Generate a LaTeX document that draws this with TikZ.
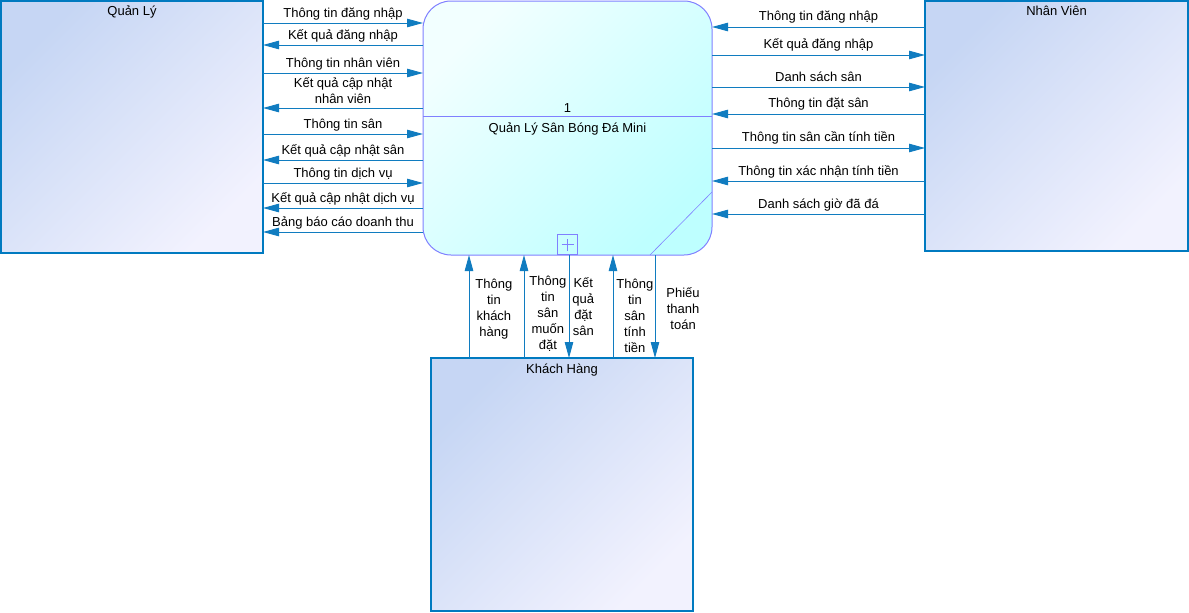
\documentclass[tikz,border=0pt]{standalone}
\usepackage{fontspec}
\setmainfont{Liberation Sans}
\usepackage{tikz}
\usetikzlibrary{arrows.meta, calc}
\usepackage{xcolor}
\definecolor{entline}{RGB}{0,122,192}
\definecolor{enttop}{RGB}{198,214,244}
\definecolor{entbot}{RGB}{242,242,254}
\definecolor{procline}{RGB}{128,128,255}
\definecolor{proctop}{RGB}{242,255,255}
\definecolor{procbot}{RGB}{190,255,255}
\definecolor{flowline}{RGB}{16,124,192}

\begin{document}
\begin{tikzpicture}[x=1pt, y=-1pt,
    entity/.style={draw=entline, line width=1.5pt, top color=enttop, bottom color=entbot, shading angle=45, anchor=north west, inner sep=0pt, outer sep=0pt},
    process/.style={draw=procline, line width=1pt, top color=proctop, bottom color=procbot, shading angle=45, rounded corners=28pt, anchor=north west, inner sep=0pt, outer sep=0pt},
    flow/.style={draw=flowline, line width=0.9pt, -{Triangle[length=16pt, width=8.5pt]}},
    lbl/.style={font=\fontsize{13}{16}\selectfont, inner sep=0pt, align=center},
    title/.style={font=\fontsize{13}{16}\selectfont, anchor=base, inner sep=0pt}]
                \useasboundingbox (0,0) rectangle (1189,613);
                % external entities and the process
                \node[entity, minimum width=262pt, minimum height=252pt] (quanly) at (1,1) {};
                \node[entity, minimum width=263pt, minimum height=250pt] (nhanvien) at (925,1) {};
                \node[entity, minimum width=262pt, minimum height=253pt] (khachhang) at (431,358) {};
                \node[process, minimum width=289pt, minimum height=254pt] (xuly) at (423,1) {};
                \node[title] (tquanly) at ([yshift=-15pt]quanly.north) {Quản Lý};
                \node[title] (tnhanvien) at ([yshift=-15pt]nhanvien.north) {Nhân Viên};
                \node[title] (tkhachhang) at ([yshift=-15pt]khachhang.north) {Khách Hàng};
                \draw[procline, line width=1pt] ([yshift=-115.5pt]xuly.north west) -- ([yshift=-115.5pt]xuly.north east);
                \node[title] (so) at ([yshift=-111pt]xuly.north) {1};
                \node[title] (ten) at ([yshift=-131pt]xuly.north) {Quản Lý Sân Bóng Đá Mini};
                \node[draw=procline, line width=1pt, minimum size=20pt, inner sep=0pt, anchor=south] (mo) at (xuly.south) {};
                \draw[procline, line width=0.6pt] ([xshift=-6pt]mo.center) -- ([xshift=6pt]mo.center);
                \draw[procline, line width=0.6pt] ([yshift=-6pt]mo.center) -- ([yshift=6pt]mo.center);
                \draw[procline, line width=0.6pt] ([xshift=-62pt]xuly.south east) -- ([yshift=63pt]xuly.south east);
                % Quan Ly <-> xu ly
                \draw[flow] ([yshift=-22pt]quanly.north east) -- node[lbl, anchor=base, yshift=6pt]{Thông tin đăng nhập} ([yshift=-22pt]quanly.north east -| xuly.west);
                \draw[flow] ([yshift=-44pt]quanly.north east -| xuly.west) -- node[lbl, anchor=base, yshift=6pt]{Kết quả đăng nhập} ([yshift=-44pt]quanly.north east);
                \draw[flow] ([yshift=-72pt]quanly.north east) -- node[lbl, anchor=base, yshift=6pt]{Thông tin nhân viên} ([yshift=-72pt]quanly.north east -| xuly.west);
                \draw[flow] ([yshift=-107pt]quanly.north east -| xuly.west) -- node[lbl, anchor=base, yshift=5pt]{Kết quả cập nhật\\nhân viên} ([yshift=-107pt]quanly.north east);
                \draw[flow] ([yshift=-133pt]quanly.north east) -- node[lbl, anchor=base, yshift=6pt]{Thông tin sân} ([yshift=-133pt]quanly.north east -| xuly.west);
                \draw[flow] ([yshift=-159pt]quanly.north east -| xuly.west) -- node[lbl, anchor=base, yshift=6pt]{Kết quả cập nhật sân} ([yshift=-159pt]quanly.north east);
                \draw[flow] ([yshift=-182pt]quanly.north east) -- node[lbl, anchor=base, yshift=6pt]{Thông tin dịch vụ} ([yshift=-182pt]quanly.north east -| xuly.west);
                \draw[flow] ([yshift=-207pt]quanly.north east -| xuly.west) -- node[lbl, anchor=base, yshift=6pt]{Kết quả cập nhật dịch vụ} ([yshift=-207pt]quanly.north east);
                \draw[flow] ([yshift=-231pt]quanly.north east -| xuly.west) -- node[lbl, anchor=base, yshift=6pt]{Bảng báo cáo doanh thu} ([yshift=-231pt]quanly.north east);
                % Nhan Vien <-> xu ly
                \draw[flow] ([yshift=-26pt]nhanvien.north west) -- node[lbl, anchor=base, yshift=7pt]{Thông tin đăng nhập} ([yshift=-26pt]nhanvien.north west -| xuly.east);
                \draw[flow] ([yshift=-54pt]nhanvien.north west -| xuly.east) -- node[lbl, anchor=base, yshift=7pt]{Kết quả đăng nhập} ([yshift=-54pt]nhanvien.north west);
                \draw[flow] ([yshift=-86pt]nhanvien.north west -| xuly.east) -- node[lbl, anchor=base, yshift=6pt]{Danh sách sân} ([yshift=-86pt]nhanvien.north west);
                \draw[flow] ([yshift=-113pt]nhanvien.north west) -- node[lbl, anchor=base, yshift=7pt]{Thông tin đặt sân} ([yshift=-113pt]nhanvien.north west -| xuly.east);
                \draw[flow] ([yshift=-147pt]nhanvien.north west -| xuly.east) -- node[lbl, anchor=base, yshift=7pt]{Thông tin sân cần tính tiền} ([yshift=-147pt]nhanvien.north west);
                \draw[flow] ([yshift=-180pt]nhanvien.north west) -- node[lbl, anchor=base, yshift=6pt]{Thông tin xác nhận tính tiền} ([yshift=-180pt]nhanvien.north west -| xuly.east);
                \draw[flow] ([yshift=-213pt]nhanvien.north west) -- node[lbl, anchor=base, yshift=6pt]{Danh sách giờ đã đá} ([yshift=-213pt]nhanvien.north west -| xuly.east);
                % Khach Hang <-> xu ly
                \draw[flow] ([xshift=38pt]khachhang.north west) -- node[lbl, anchor=west, xshift=6pt, yshift=-3pt]{Thông\\tin\\khách\\hàng} ([xshift=38pt]khachhang.north west |- xuly.south);
                \draw[flow] ([xshift=93pt]khachhang.north west) -- node[lbl, anchor=west, xshift=5pt, yshift=-7pt]{Thông\\tin\\sân\\muốn\\đặt} ([xshift=93pt]khachhang.north west |- xuly.south);
                \draw[flow] ([xshift=138pt]khachhang.north west |- xuly.south) -- node[lbl, anchor=west, xshift=3pt, yshift=0pt]{Kết\\quả\\đặt\\sân} ([xshift=138pt]khachhang.north west);
                \draw[flow] ([xshift=182pt]khachhang.north west) -- node[lbl, anchor=west, xshift=3pt, yshift=-9pt]{Thông\\tin\\sân\\tính\\tiền} ([xshift=182pt]khachhang.north west |- xuly.south);
                \draw[flow] ([xshift=224pt]khachhang.north west |- xuly.south) -- node[lbl, anchor=west, xshift=11pt, yshift=-2pt]{Phiếu\\thanh\\toán} ([xshift=224pt]khachhang.north west);
            \end{tikzpicture}
\end{document}
